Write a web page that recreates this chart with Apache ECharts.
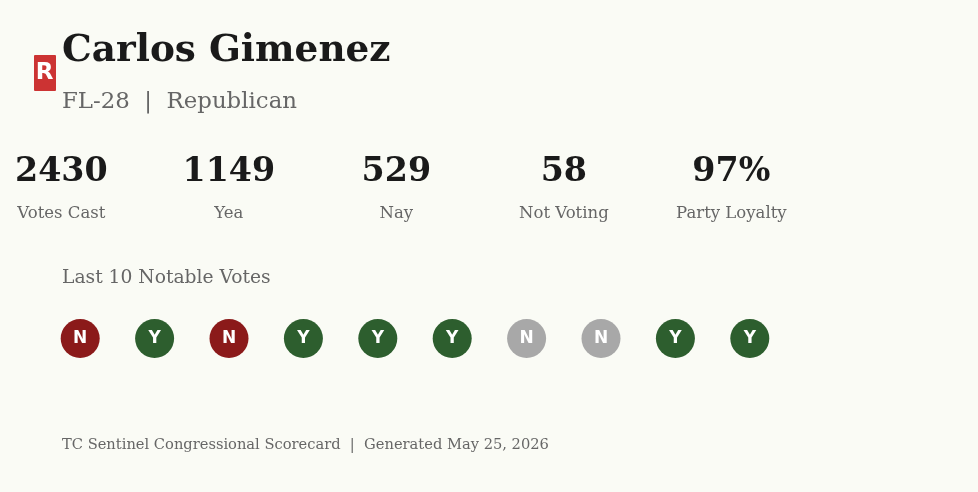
<!DOCTYPE html>
<html>
<head>
<meta charset="utf-8">
<title>Carlos Gimenez</title>
<style>
html, body { margin: 0; padding: 0; background: #fafbf5; }
#main { width: 978px; height: 492px; }
</style>
<script src="https://cdn.jsdelivr.net/npm/echarts@6/dist/echarts.min.js"></script>
</head>
<body>
<div id="main"></div>
<script>
var statLabels = ['Votes Cast', 'Yea', 'Nay', 'Not Voting', 'Party Loyalty'];
var statValues = ['2430', '1149', '529', '58', '97%'];
var voteSlots = ['1', '2', '3', '4', '5', '6', '7', '8', '9', '10'];
var votes = ['N', 'Y', 'N', 'Y', 'Y', 'Y', 'N', 'N', 'Y', 'Y'];
// 缺席的两票 (灰色)
var votesMissed = [6, 7];

var SERIF = '"DejaVu Serif", serif';
var SANS = '"DejaVu Sans", sans-serif';

var myChart = echarts.init(document.getElementById('main'));

function voteColor(i) {
    if (votesMissed.indexOf(i) >= 0) return '#a8a8a8';
    return votes[i] === 'Y' ? '#2d5e2e' : '#8b1a1a';
}

var option = {
    backgroundColor: '#fafbf5',
    animation: false,
    title: [
        { text: 'Carlos Gimenez', left: 62, top: 33, padding: 0, textStyle: { fontFamily: SERIF, fontSize: 37.4, fontWeight: 'bold', color: '#1a1a1a' } },
        { text: 'FL-28  |  Republican', left: 62, top: 91, padding: 0, textStyle: { fontFamily: SERIF, fontSize: 22.85, fontWeight: 'normal', color: '#666666' } },
        { text: 'Last 10 Notable Votes', left: 62, top: 269, padding: 0, textStyle: { fontFamily: SERIF, fontSize: 18.7, fontWeight: 'normal', color: '#666666' } },
        { text: 'TC Sentinel Congressional Scorecard  |  Generated May 25, 2026', left: 62, top: 438, padding: 0, textStyle: { fontFamily: SERIF, fontSize: 14.66, fontWeight: 'normal', color: '#666666' } }
    ],
    graphic: [
        { type: 'rect', shape: { x: 34, y: 55, width: 22, height: 36, r: 1 }, style: { fill: '#cc3333' } },
        { type: 'text', x: 44.5, y: 73, style: { text: 'R', fill: '#ffffff', font: 'bold 23px ' + SANS, textAlign: 'center', textVerticalAlign: 'middle' } }
    ],
    grid: [
        { left: -22.4, top: 151, width: 837.5, height: 80, outerBoundsMode: 'none' },
        { left: 43, top: 319, width: 744, height: 39, outerBoundsMode: 'none' }
    ],
    xAxis: [
        { type: 'category', gridIndex: 0, data: statLabels, show: false },
        { type: 'category', gridIndex: 1, data: voteSlots, show: false }
    ],
    yAxis: [
        { type: 'value', gridIndex: 0, min: 0, max: 1, show: false },
        { type: 'value', gridIndex: 1, min: 0, max: 1, show: false }
    ],
    series: [
        {
            type: 'scatter', xAxisIndex: 0, yAxisIndex: 0, symbolSize: 0, silent: true,
            itemStyle: { opacity: 1 },
            data: statValues.map(function (v, i) { return { value: [i, 0.73], label: { formatter: v } }; }),
            label: { show: true, position: 'inside', fontFamily: SERIF, fontSize: 33.3, fontWeight: 'bold', color: '#1a1a1a', opacity: 1 }
        },
        {
            type: 'scatter', xAxisIndex: 0, yAxisIndex: 0, symbolSize: 0, silent: true,
            itemStyle: { opacity: 1 },
            data: statLabels.map(function (v, i) { return { value: [i, 0.21], label: { formatter: v } }; }),
            label: { show: true, position: 'inside', fontFamily: SERIF, fontSize: 16.5, color: '#666666', opacity: 1 }
        },
        {
            type: 'scatter', xAxisIndex: 1, yAxisIndex: 1, symbolSize: 39, silent: true,
            data: votes.map(function (v, i) {
                return { value: [i, 0.5], itemStyle: { color: voteColor(i), opacity: 1 }, label: { formatter: v } };
            }),
            label: { show: true, position: 'inside', fontFamily: SANS, fontSize: 17, fontWeight: 'bold', color: '#ffffff', opacity: 1 }
        }
    ]
};

myChart.setOption(option);
</script>
</body>
</html>
